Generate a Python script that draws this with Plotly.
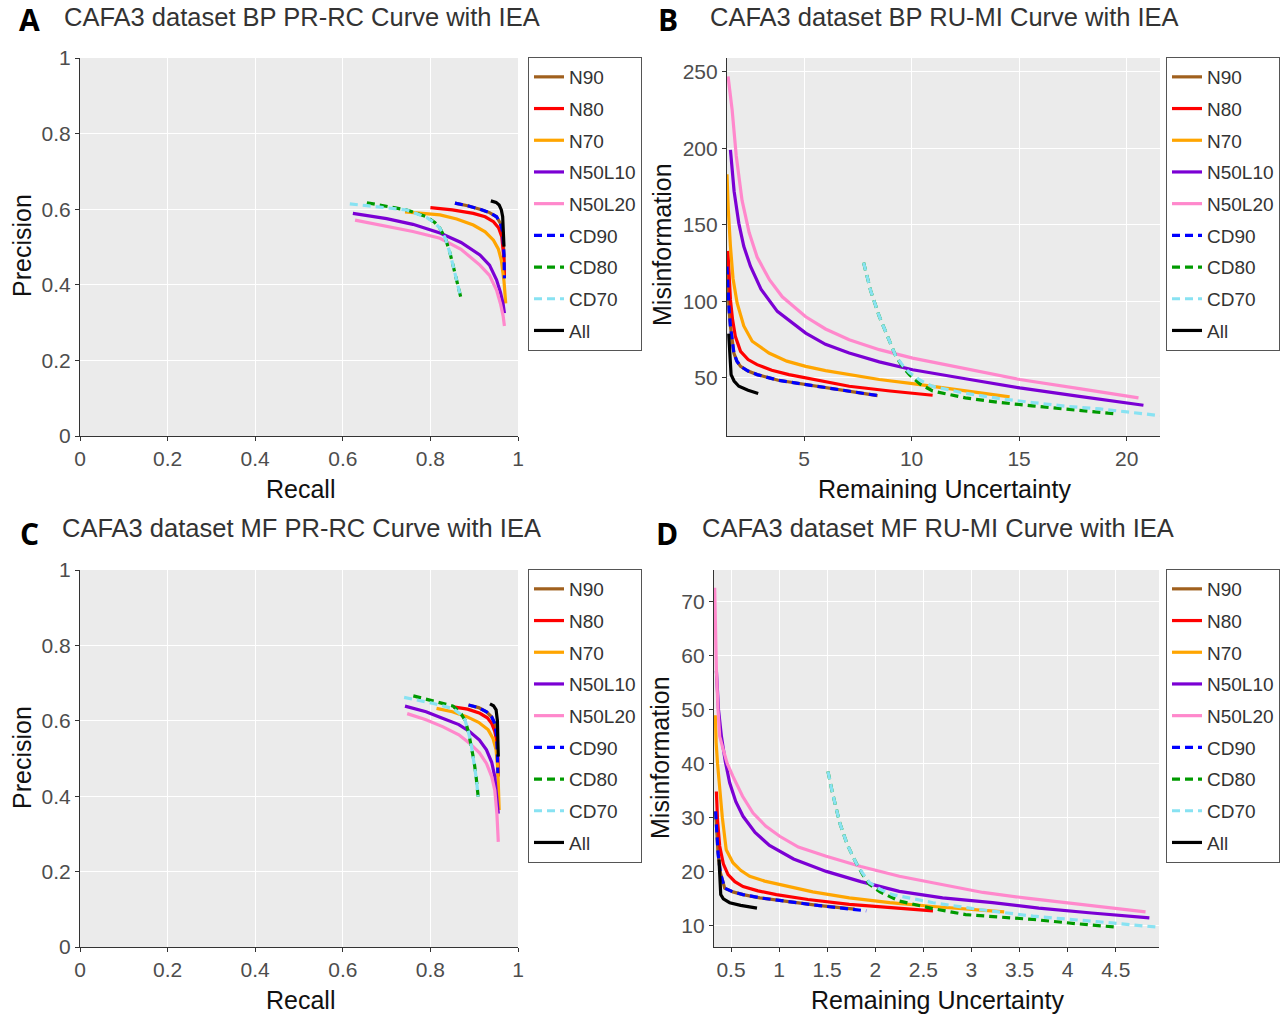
import plotly.graph_objects as go

# ============================ DATA ===============================
# -------- A : BP PR-RC (recall, precision) -------------
a_n90_x = [0.856, 0.885, 0.913, 0.935, 0.951, 0.960, 0.965, 0.968, 0.969]
a_n90_y = [0.616, 0.609, 0.600, 0.591, 0.580, 0.562, 0.540, 0.480, 0.417]
a_n80_x = [0.800, 0.850, 0.898, 0.925, 0.944, 0.956, 0.963, 0.967, 0.969]
a_n80_y = [0.604, 0.598, 0.589, 0.580, 0.567, 0.550, 0.527, 0.480, 0.421]
a_n70_x = [0.742, 0.780, 0.822, 0.860, 0.898, 0.925, 0.944, 0.955, 0.962, 0.968, 0.972]
a_n70_y = [0.593, 0.590, 0.585, 0.574, 0.558, 0.540, 0.518, 0.495, 0.465, 0.410, 0.351]
a_n50l10_x = [0.623, 0.700, 0.760, 0.822, 0.870, 0.913, 0.935, 0.951, 0.960, 0.966, 0.969]
a_n50l10_y = [0.589, 0.575, 0.560, 0.537, 0.512, 0.479, 0.452, 0.413, 0.380, 0.350, 0.325]
a_n50l20_x = [0.628, 0.700, 0.760, 0.822, 0.870, 0.913, 0.935, 0.951, 0.960, 0.966, 0.969]
a_n50l20_y = [0.571, 0.555, 0.541, 0.523, 0.494, 0.452, 0.425, 0.386, 0.350, 0.318, 0.291]
a_cd90_x = [0.856, 0.885, 0.913, 0.935, 0.951, 0.960, 0.965, 0.968, 0.969]
a_cd90_y = [0.616, 0.609, 0.600, 0.591, 0.580, 0.562, 0.540, 0.480, 0.417]
a_cd80_x = [0.655, 0.700, 0.746, 0.791, 0.810, 0.822, 0.835, 0.845, 0.858, 0.869]
a_cd80_y = [0.617, 0.608, 0.598, 0.580, 0.565, 0.549, 0.520, 0.483, 0.425, 0.369]
a_cd70_x = [0.616, 0.660, 0.708, 0.746, 0.791, 0.810, 0.822, 0.835, 0.845, 0.858, 0.869]
a_cd70_y = [0.614, 0.608, 0.602, 0.598, 0.578, 0.564, 0.549, 0.520, 0.483, 0.425, 0.369]
a_all_x = [0.938, 0.950, 0.957, 0.962, 0.965, 0.967, 0.968]
a_all_y = [0.622, 0.618, 0.611, 0.598, 0.580, 0.540, 0.501]

# -------- B : BP RU-MI (remaining uncertainty, misinformation) -------------
b_n90_x = [1.42, 1.46, 1.52, 1.58, 1.65, 1.74, 1.88, 2.05, 2.4, 2.82, 3.8, 5.08, 6.5, 8.42]
b_n90_y = [122.8, 108, 94, 83.7, 74, 66.3, 61, 57.6, 54.5, 52.2, 48.5, 45.7, 42.5, 38.5]
b_n80_x = [1.46, 1.5, 1.58, 1.68, 1.81, 2.05, 2.4, 2.82, 3.5, 4.3, 5.5, 7.1, 9.0, 10.98]
b_n80_y = [133, 118, 101, 88, 77, 67.4, 62, 58.7, 55, 52.2, 49, 44.6, 41.5, 38.7]
b_n70_x = [1.42, 1.48, 1.58, 1.7, 1.89, 2.2, 2.59, 3.37, 4.2, 5.08, 6.0, 7.1, 8.5, 10.05, 12.3, 14.56]
b_n70_y = [183, 160, 136, 115, 99, 84, 74, 66.3, 61, 57.6, 54.8, 52.2, 49, 46.3, 42, 37.6]
b_n50l10_x = [1.58, 1.75, 1.97, 2.2, 2.51, 3.0, 3.76, 5.08, 6.0, 7.1, 8.5, 10.05, 12.5, 15.03, 17.8, 20.78]
b_n50l10_y = [199, 172, 151, 136, 123, 108, 93.5, 79.3, 72, 66.3, 60.5, 55.4, 49.5, 43.5, 38, 32.2]
b_n50l20_x = [1.47, 1.55, 1.66, 1.85, 2.12, 2.45, 2.82, 3.4, 3.99, 5.08, 6.0, 7.1, 8.5, 10.05, 12.5, 15.03, 17.8, 20.55]
b_n50l20_y = [247, 238, 225, 195, 166, 145, 129, 114, 103, 90, 82, 75, 68.5, 63, 56, 49, 43, 37]
b_cd90_x = [1.42, 1.46, 1.52, 1.58, 1.65, 1.74, 1.88, 2.05, 2.4, 2.82, 3.8, 5.08, 6.5, 8.42]
b_cd90_y = [122.8, 108, 94, 83.7, 74, 66.3, 61, 57.6, 54.5, 52.2, 48.5, 45.7, 42.5, 38.5]
b_cd80_x = [7.77, 8.1, 8.5, 8.9, 9.27, 9.6, 9.9, 10.4, 10.98, 12.5, 14.09, 15.6, 17.2, 18.76, 19.53]
b_cd80_y = [125.4, 107, 90.2, 76, 64.1, 57, 52.2, 46, 41.5, 37, 34, 31.8, 29.8, 27.6, 26.5]
b_cd70_x = [7.77, 8.1, 8.5, 8.9, 9.27, 9.6, 9.9, 10.4, 10.98, 12.5, 14.09, 15.6, 17.2, 18.76, 20.2, 21.55]
b_cd70_y = [125.4, 107, 90.2, 76, 64.1, 58, 53.5, 48.5, 44.5, 40, 36.5, 34, 31.5, 29.8, 27.5, 25.4]
b_all_x = [1.5, 1.53, 1.57, 1.61, 1.75, 1.97, 2.4, 2.87]
b_all_y = [79, 68, 58, 52.2, 48, 44.6, 42, 39.8]

# -------- C : MF PR-RC -------------
c_n90_x = [0.887, 0.910, 0.928, 0.940, 0.947, 0.951, 0.953, 0.954]
c_n90_y = [0.642, 0.635, 0.624, 0.610, 0.593, 0.560, 0.510, 0.461]
c_n80_x = [0.852, 0.885, 0.913, 0.930, 0.940, 0.947, 0.951, 0.954, 0.955]
c_n80_y = [0.637, 0.631, 0.620, 0.608, 0.593, 0.572, 0.549, 0.500, 0.452]
c_n70_x = [0.814, 0.850, 0.883, 0.910, 0.932, 0.943, 0.950, 0.954, 0.957]
c_n70_y = [0.633, 0.624, 0.611, 0.596, 0.576, 0.553, 0.523, 0.470, 0.363]
c_n50l10_x = [0.742, 0.790, 0.829, 0.865, 0.890, 0.912, 0.928, 0.940, 0.947, 0.952, 0.955]
c_n50l10_y = [0.639, 0.624, 0.606, 0.590, 0.571, 0.549, 0.523, 0.490, 0.452, 0.400, 0.354]
c_n50l20_x = [0.747, 0.790, 0.829, 0.865, 0.890, 0.912, 0.928, 0.940, 0.947, 0.952, 0.955]
c_n50l20_y = [0.619, 0.603, 0.584, 0.563, 0.540, 0.515, 0.487, 0.452, 0.416, 0.350, 0.279]
c_cd90_x = [0.887, 0.910, 0.928, 0.940, 0.947, 0.951, 0.953, 0.954]
c_cd90_y = [0.642, 0.635, 0.624, 0.610, 0.593, 0.560, 0.510, 0.461]
c_cd80_x = [0.761, 0.807, 0.852, 0.868, 0.879, 0.887, 0.894, 0.900, 0.905, 0.909]
c_cd80_y = [0.666, 0.653, 0.639, 0.622, 0.602, 0.570, 0.531, 0.490, 0.445, 0.399]
c_cd70_x = [0.740, 0.770, 0.807, 0.852, 0.868, 0.879, 0.887, 0.894, 0.900, 0.905, 0.909]
c_cd70_y = [0.662, 0.655, 0.646, 0.632, 0.618, 0.602, 0.570, 0.531, 0.490, 0.445, 0.399]
c_all_x = [0.936, 0.944, 0.950, 0.953, 0.954, 0.955]
c_all_y = [0.645, 0.640, 0.629, 0.600, 0.550, 0.505]

# -------- D : MF RU-MI -------------
d_n90_x = [0.34, 0.35, 0.365, 0.39, 0.434, 0.52, 0.625, 0.8, 1.04, 1.4, 1.785]
d_n90_y = [31.2, 27, 23.5, 19.8, 17.0, 16.3, 15.8, 15.2, 14.6, 13.8, 13.1]
d_n80_x = [0.348, 0.36, 0.382, 0.42, 0.469, 0.54, 0.625, 0.78, 0.971, 1.3, 1.73, 2.15, 2.6]
d_n80_y = [34.9, 29.5, 24.8, 21.5, 19.5, 18.2, 17.3, 16.5, 15.8, 14.9, 14.0, 13.4, 12.8]
d_n70_x = [0.337, 0.345, 0.36, 0.382, 0.41, 0.45, 0.52, 0.6, 0.694, 0.85, 1.006, 1.35, 1.73, 2.15, 2.6, 3.0, 3.34]
d_n70_y = [49, 44, 40, 35.9, 30, 24.1, 21.7, 20.3, 19.2, 18.3, 17.7, 16.3, 15.2, 14.3, 13.6, 13.0, 12.6]
d_n50l10_x = [0.348, 0.37, 0.40, 0.44, 0.486, 0.55, 0.625, 0.75, 0.9, 1.15, 1.49, 1.85, 2.25, 2.7, 3.22, 3.7, 4.25, 4.85]
d_n50l10_y = [57.2, 50, 45.1, 40.5, 36.5, 33, 30.3, 27.3, 24.9, 22.4, 20.1, 18.2, 16.4, 15.2, 14.3, 13.3, 12.4, 11.5]
d_n50l20_x = [0.330, 0.336, 0.348, 0.365, 0.382, 0.42, 0.46, 0.52, 0.62, 0.729, 0.86, 1.006, 1.2, 1.49, 1.85, 2.25, 2.7, 3.12, 3.55, 3.98, 4.4, 4.81]
d_n50l20_y = [72.6, 66, 57.5, 50, 45.1, 42.6, 40.1, 37.7, 34, 30.9, 28.5, 26.6, 24.6, 22.9, 21, 19.2, 17.6, 16.2, 15.2, 14.3, 13.4, 12.6]
d_cd90_x = [0.34, 0.35, 0.365, 0.39, 0.434, 0.52, 0.625, 0.8, 1.04, 1.4, 1.906]
d_cd90_y = [31.2, 27, 23.5, 19.8, 17.0, 16.3, 15.8, 15.2, 14.6, 13.8, 12.8]
d_cd80_x = [1.508, 1.55, 1.63, 1.71, 1.8, 1.87, 1.94, 2.05, 2.25, 2.6, 2.94, 3.3, 3.64, 4.1, 4.49]
d_cd80_y = [38.6, 35, 29.1, 25, 21.7, 19.5, 17.7, 16.3, 14.6, 13.2, 12.1, 11.6, 11.2, 10.4, 9.8]
d_cd70_x = [1.508, 1.55, 1.63, 1.71, 1.8, 1.87, 1.94, 2.05, 2.18, 2.4, 2.6, 3.1, 3.64, 4.3, 4.95]
d_cd70_y = [38.6, 35, 29.1, 25, 21.7, 19.7, 18, 16.8, 15.8, 15, 14.3, 13, 11.8, 10.8, 9.75]
d_all_x = [0.375, 0.38, 0.386, 0.393, 0.42, 0.486, 0.6, 0.77]
d_all_y = [22.3, 19.5, 17.3, 15.8, 15, 14.3, 13.8, 13.3]

series_names = ['N90', 'N80', 'N70', 'N50L10', 'N50L20', 'CD90', 'CD80', 'CD70', 'All']
series_colors = ['#A0601E', '#FF0000', '#FFA500', '#7B00D4', '#FF88CC', '#0000FF', '#009A00', '#88E2F2', '#000000']
series_dash = ['solid', 'solid', 'solid', 'solid', 'solid', '8px,5px', '8px,5px', '8px,5px', 'solid']

panels = {
    'A': [(a_n90_x, a_n90_y), (a_n80_x, a_n80_y), (a_n70_x, a_n70_y), (a_n50l10_x, a_n50l10_y), (a_n50l20_x, a_n50l20_y),
          (a_cd90_x, a_cd90_y), (a_cd80_x, a_cd80_y), (a_cd70_x, a_cd70_y), (a_all_x, a_all_y)],
    'B': [(b_n90_x, b_n90_y), (b_n80_x, b_n80_y), (b_n70_x, b_n70_y), (b_n50l10_x, b_n50l10_y), (b_n50l20_x, b_n50l20_y),
          (b_cd90_x, b_cd90_y), (b_cd80_x, b_cd80_y), (b_cd70_x, b_cd70_y), (b_all_x, b_all_y)],
    'C': [(c_n90_x, c_n90_y), (c_n80_x, c_n80_y), (c_n70_x, c_n70_y), (c_n50l10_x, c_n50l10_y), (c_n50l20_x, c_n50l20_y),
          (c_cd90_x, c_cd90_y), (c_cd80_x, c_cd80_y), (c_cd70_x, c_cd70_y), (c_all_x, c_all_y)],
    'D': [(d_n90_x, d_n90_y), (d_n80_x, d_n80_y), (d_n70_x, d_n70_y), (d_n50l10_x, d_n50l10_y), (d_n50l20_x, d_n50l20_y),
          (d_cd90_x, d_cd90_y), (d_cd80_x, d_cd80_y), (d_cd70_x, d_cd70_y), (d_all_x, d_all_y)],
}

W, H = 1284, 1016
def px(x):
    return x / W
def py(y):
    return 1 - y / H

# ============================ FIGURE ===============================
fig = go.Figure()

axis_ids = {'A': '', 'B': '2', 'C': '3', 'D': '4'}
for panel, curves in panels.items():
    k = axis_ids[panel]
    for (xs, ys), name, color, dash in zip(curves, series_names, series_colors, series_dash):
        fig.add_trace(go.Scatter(x=xs, y=ys, mode='lines', name=name,
                                 line=dict(color=color, width=3.2, dash=dash),
                                 legend='legend' + k, legendgroup=panel + name,
                                 xaxis='x' + k, yaxis='y' + k))

# -------- axes -------------
def axis_style(domain, rng, dtick, anchor):
    return dict(domain=domain, range=rng, dtick=dtick, anchor=anchor, automargin=False,
                showline=True, linecolor='#333333', linewidth=1.2,
                ticks='outside', ticklen=4, tickcolor='#333333',
                tickfont=dict(family='Liberation Sans', size=21, color='#4D4D4D'),
                showgrid=True, gridcolor='white', gridwidth=1, zeroline=False)

fig.update_layout(
    xaxis=axis_style([px(80), px(518)], [0, 1], 0.2, 'y'),
    yaxis=axis_style([py(436), py(58)], [0, 1], 0.2, 'x'),
    xaxis2=axis_style([px(727), px(1160)], [1.42, 21.55], 5, 'y2'),
    yaxis2=axis_style([py(436), py(58)], [12.1, 259], 50, 'x2'),
    xaxis3=axis_style([px(80), px(518)], [0, 1], 0.2, 'y3'),
    yaxis3=axis_style([py(947), py(570)], [0, 1], 0.2, 'x3'),
    xaxis4=axis_style([px(714), px(1159)], [0.323, 4.95], 0.5, 'y4'),
    yaxis4=axis_style([py(947), py(570)], [6.1, 75.9], 10, 'x4'),
)
fig.update_xaxes(tickvals=[0, 0.2, 0.4, 0.6, 0.8, 1], ticktext=['0', '0.2', '0.4', '0.6', '0.8', '1'], selector=dict(dtick=0.2))
fig.update_yaxes(tickvals=[0, 0.2, 0.4, 0.6, 0.8, 1], ticktext=['0', '0.2', '0.4', '0.6', '0.8', '1'], selector=dict(dtick=0.2))

# -------- legends -------------
def legend_style(x, y):
    return dict(x=px(x), y=py(y), xanchor='left', yanchor='top',
                bgcolor='white', bordercolor='#555555', borderwidth=1,
                font=dict(family='Liberation Sans', size=19, color='#333333'),
                tracegroupgap=4, itemwidth=30)

fig.update_layout(
    legend=legend_style(528, 57),
    legend2=legend_style(1166, 57),
    legend3=legend_style(528, 569),
    legend4=legend_style(1166, 569),
)

# -------- titles and axis labels -------------
title_font = dict(family='Liberation Sans', size=25.5, color='#333333')
label_font = dict(family='Liberation Sans', size=25, color='#111111')
letter_font = dict(family='Open Sans', size=30, color='black')

titles = [('A', 29, 20, 62, 17, 'CAFA3 dataset BP PR-RC Curve with IEA'),
          ('B', 668, 20, 708, 17, 'CAFA3 dataset BP RU-MI Curve with IEA'),
          ('C', 29, 533, 60, 528, 'CAFA3 dataset MF PR-RC Curve with IEA'),
          ('D', 667, 533, 700, 528, 'CAFA3 dataset MF RU-MI Curve with IEA')]
for letter, lx, ly, tx, ty, text in titles:
    fig.add_annotation(x=px(lx), y=py(ly), xref='paper', yref='paper', text='<b>%s</b>' % letter,
                       showarrow=False, font=letter_font, xanchor='center', yanchor='middle')
    fig.add_annotation(x=px(tx), y=py(ty), xref='paper', yref='paper', text=text,
                       showarrow=False, font=title_font, xanchor='left', yanchor='middle')

labels = [(300, 489, 'Recall', 0), (22, 245, 'Precision', -90),
          (944, 489, 'Remaining Uncertainty', 0), (662, 245, 'Misinformation', -90),
          (300, 1000, 'Recall', 0), (22, 757, 'Precision', -90),
          (937, 1000, 'Remaining Uncertainty', 0), (660, 757, 'Misinformation', -90)]
for lx, ly, text, angle in labels:
    fig.add_annotation(x=px(lx), y=py(ly), xref='paper', yref='paper', text=text, textangle=angle,
                       showarrow=False, font=label_font, xanchor='center', yanchor='middle')

fig.update_layout(
    width=W, height=H,
    margin=dict(l=0, r=0, t=0, b=0, pad=0, autoexpand=False),
    paper_bgcolor='white',
    plot_bgcolor='#EBEBEB',
    showlegend=True,
)

# page margin off so the fixed-size figure sits at the window corner
fig.write_html("out.html", config={'displayModeBar': False},
               post_script="document.body.style.margin='0';document.body.style.overflow='hidden';")
